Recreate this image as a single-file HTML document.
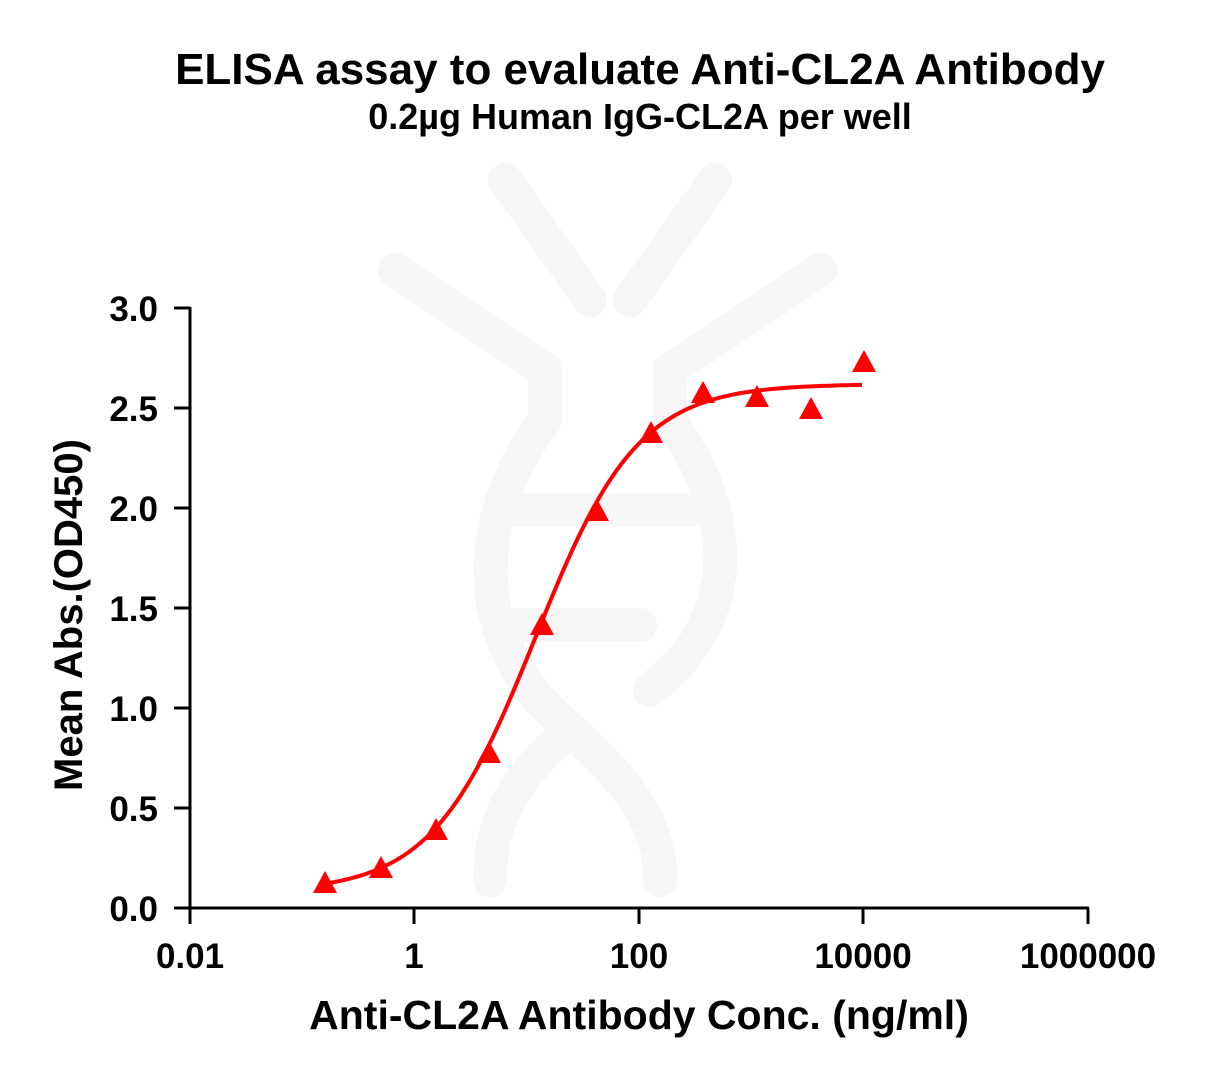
<!DOCTYPE html>
<html><head><style>
body{margin:0;background:#fff;}
svg{display:block;font-family:"Liberation Sans",Arial,sans-serif;font-weight:bold;}
</style></head><body>
<svg width="1217" height="1079" viewBox="0 0 1217 1079">
<g fill="none" stroke="#f6f6f6" stroke-width="34" stroke-linecap="round">
<path d="M505 180 L590 300"/><path d="M715 180 L630 300"/>
<path d="M395 270 L545 370 L545 420"/><path d="M820 270 L670 370 L670 420"/>
<path d="M545 420 C470 520 470 640 560 720 C640 790 660 830 660 880"/>
<path d="M670 420 C740 520 740 620 650 690"/>
<path d="M560 740 C500 790 490 840 490 880"/>
<path d="M520 510 L690 510"/><path d="M500 625 L640 625"/>
</g>
<text x="640" y="84" font-size="44" text-anchor="middle">ELISA assay to evaluate Anti-CL2A Antibody</text>
<text x="640" y="129" font-size="36" text-anchor="middle">0.2µg Human IgG-CL2A per well</text>
<g stroke="#000" stroke-width="3" fill="none">
<path d="M190 307 V908 H1089"/>
<path d="M174 308H190M174 408H190M174 508H190M174 608H190M174 708H190M174 808H190M174 908H190"/>
<path d="M190 908V924M414 908V924M639 908V924M863 908V924M1088 908V924"/>
</g>
<g font-size="35" text-anchor="end">
<text x="158" y="321">3.0</text><text x="158" y="421">2.5</text><text x="158" y="521">2.0</text>
<text x="158" y="621">1.5</text><text x="158" y="721">1.0</text><text x="158" y="821">0.5</text><text x="158" y="921">0.0</text>
</g>
<g font-size="35" text-anchor="middle">
<text x="190" y="968">0.01</text><text x="414" y="968">1</text><text x="639" y="968">100</text>
<text x="863" y="968">10000</text><text x="1088" y="968">1000000</text>
</g>
<text x="639" y="1029" font-size="41" text-anchor="middle">Anti-CL2A Antibody Conc. (ng/ml)</text>
<text transform="translate(82 615) rotate(-90)" font-size="40" text-anchor="middle">Mean Abs.(OD450)</text>
<path id="curve" fill="none" stroke="#f00" stroke-width="4"/>
<g fill="#f00">
<polygon points="325,871 313,893 337,893"/>
<polygon points="381,856 369,878 393,878"/>
<polygon points="436,818 424,840 448,840"/>
<polygon points="489,741 477,763 501,763"/>
<polygon points="542,613 530,635 554,635"/>
<polygon points="597,499 585,521 609,521"/>
<polygon points="651,421 639,443 663,443"/>
<polygon points="703,381 691,403 715,403"/>
<polygon points="757,385 745,407 769,407"/>
<polygon points="811,397 799,419 823,419"/>
<polygon points="864,350 852,372 876,372"/>
</g>
<script>
var d="";
for(var px=325;px<=864;px+=3){var l=-2+(px-189)/112.4;var y=0.08+2.54/(1+Math.pow(10,0.95*(1.08-l)));var py=908-200*y;d+=(d?"L":"M")+px+" "+py.toFixed(1);}
document.getElementById("curve").setAttribute("d",d);
</script>
</svg>
</body></html>
